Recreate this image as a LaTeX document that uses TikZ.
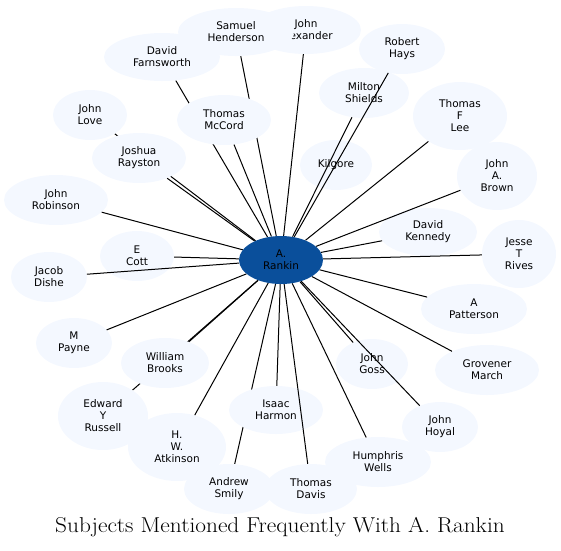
\documentclass[tikz,border=0pt]{standalone}
\usepackage{fontspec}
\usetikzlibrary{shapes.geometric}
\newfontfamily\dejavu{DejaVu Sans}
\definecolor{nodefill}{RGB}{244,248,255}
\definecolor{hubfill}{RGB}{10,79,155}
\pgfdeclarelayer{bg}
\pgfdeclarelayer{fg}
\pgfsetlayers{bg,main,fg}
\tikzset{
  subj/.style={ellipse, fill=nodefill, draw=none, inner sep=0pt, align=center,
    font=\dejavu\fontsize{10.5}{12}\selectfont},
  hub/.style={ellipse, fill=hubfill, draw=none, inner sep=0pt, align=center,
    minimum width=84pt, minimum height=48pt, font=\dejavu\fontsize{10.5}{12}\selectfont},
  link/.style={draw=black, line width=1pt},
  sz/.style 2 args={minimum width=#1pt, minimum height=#2pt}
}
\begin{document}
\begin{tikzpicture}[x=1pt,y=-1pt]
\useasboundingbox (0,0) rectangle (561,550);
\begin{pgfonlayer}{fg}
\node[hub] (rankin) at (281,260) {A.\\Rankin};
\end{pgfonlayer}
\node[subj, sz={110}{48}] (alex) at (306,30) {John\\Alexander};
\node[subj, sz={116}{48}] (sam) at (236,32) {Samuel\\Henderson};
\node[subj, sz={116}{48}] (dfarn) at (162,57) {David\\Farnsworth};
\node[subj, sz={86}{50}] (hays) at (402,49) {Robert\\Hays};
\node[subj, sz={90}{50}] (milton) at (364,93) {Milton\\Shields};
\node[subj, sz={74}{50}] (love) at (90,115) {John\\Love};
\node[subj, sz={94}{50}] (mccord) at (224,120) {Thomas\\McCord};
\node[subj, sz={94}{68}] (lee) at (460,116) {Thomas\\F\\Lee};
\node[subj, sz={94}{50}] (rayston) at (139,158) {Joshua\\Rayston};
\node[subj, sz={72}{50}] (kilgore) at (336,165) {Kilgore};
\node[subj, sz={80}{68}] (brown) at (497,176) {John\\A.\\Brown};
\node[subj, sz={104}{50}] (robinson) at (56,200) {John\\Robinson};
\node[subj, sz={98}{48}] (kennedy) at (428,232) {David\\Kennedy};
\node[subj, sz={74}{68}] (rives) at (519,254) {Jesse\\T\\Rives};
\node[subj, sz={74}{50}] (cott) at (137,256) {E\\Cott};
\node[subj, sz={76}{50}] (dishe) at (49,277) {Jacob\\Dishe};
\node[subj, sz={106}{50}] (patterson) at (474,309) {A\\Patterson};
\node[subj, sz={76}{50}] (payne) at (74,343) {M\\Payne};
\node[subj, sz={88}{50}] (brooks) at (165,363) {William\\Brooks};
\node[subj, sz={72}{50}] (goss) at (372,364) {John\\Goss};
\node[subj, sz={104}{50}] (march) at (487,370) {Grovener\\March};
\node[subj, sz={90}{68}] (russell) at (103,416) {Edward\\Y\\Russell};
\node[subj, sz={94}{48}] (harmon) at (276,410) {Isaac\\Harmon};
\node[subj, sz={76}{50}] (hoyal) at (440,427) {John\\Hoyal};
\node[subj, sz={98}{68}] (atkinson) at (177,447) {H.\\W.\\Atkinson};
\node[subj, sz={106}{50}] (wells) at (378,462) {Humphris\\Wells};
\node[subj, sz={90}{50}] (smily) at (229,489) {Andrew\\Smily};
\node[subj, sz={92}{50}] (davis) at (311,489) {Thomas\\Davis};
\begin{pgfonlayer}{bg}
\foreach \t in {sam,dfarn,love,russell,smily}
  \draw[link] (rankin) -- (\t);
\end{pgfonlayer}
\foreach \t in {alex,mccord,rayston,robinson,cott,dishe,payne,brooks,atkinson,harmon,davis,wells,hoyal,goss,march,patterson,rives,kennedy,brown,lee,hays,milton}
  \draw[link] (rankin) -- (\t);
\node[font=\fontsize{21.5}{24}\selectfont, inner sep=0pt] (title) at (280,527)
  {\scalebox{1.085}[1]{Subjects Mentioned Frequently With A. Rankin}};
\end{tikzpicture}
\end{document}
